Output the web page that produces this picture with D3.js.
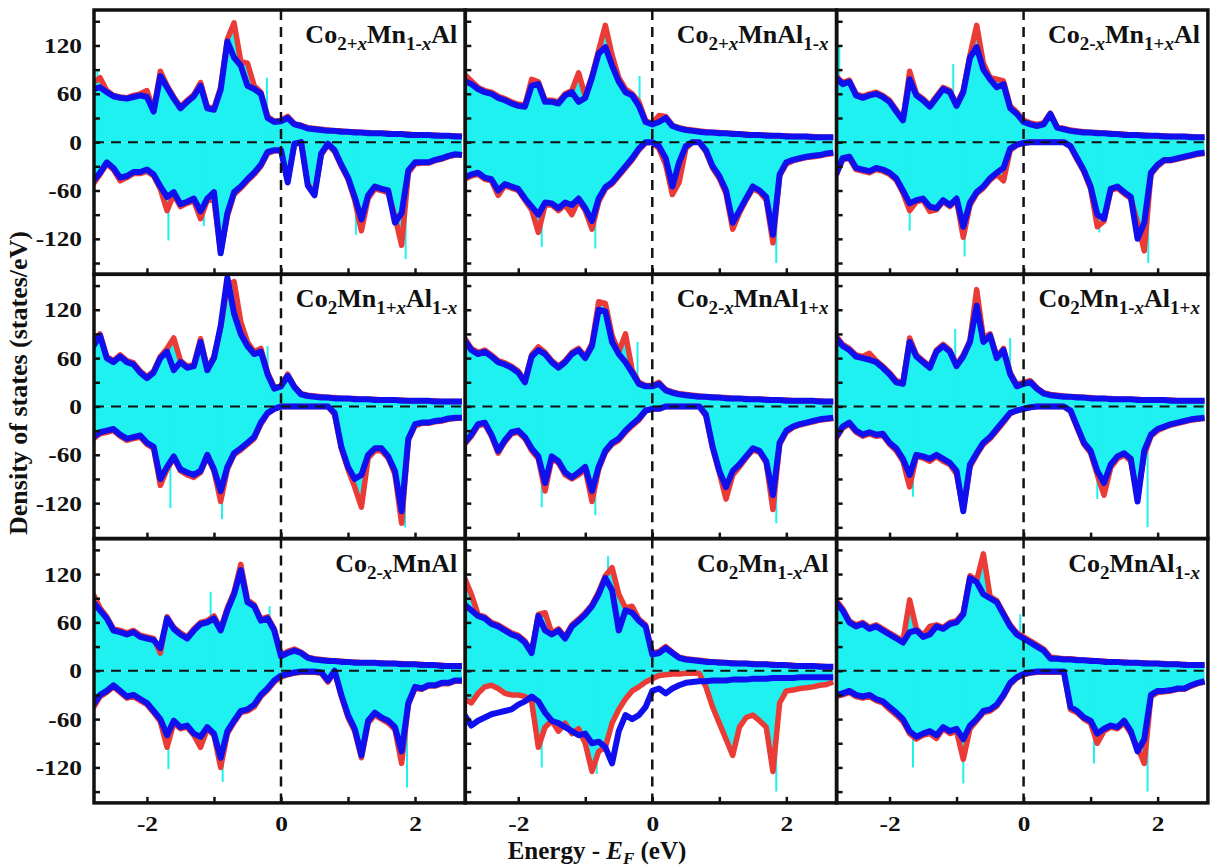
<!DOCTYPE html>
<html>
<head>
<meta charset="utf-8">
<script src="https://cdn.jsdelivr.net/npm/d3@7"></script>
<style>
  body { margin: 0; background: #fff; }
  text { font-family: "Liberation Serif", "Times New Roman", serif; font-weight: bold; }
</style>
</head>
<body>
<script>
// energy grid (eV), shared by every panel
const energy = [-2.8, -2.7, -2.6, -2.5, -2.4, -2.3, -2.2, -2.1, -2.0, -1.9,
  -1.8, -1.7, -1.6, -1.5, -1.4, -1.3, -1.2, -1.1, -1.0, -0.9,
  -0.8, -0.7, -0.6, -0.5, -0.4, -0.3, -0.2, -0.1, 0, 0.1,
  0.2, 0.3, 0.4, 0.5, 0.6, 0.7, 0.8, 0.9, 1.0, 1.1,
  1.2, 1.3, 1.4, 1.5, 1.6, 1.7, 1.8, 1.9, 2.0, 2.1,
  2.2, 2.3, 2.4, 2.5, 2.6, 2.7]

const yTicks = [-150, -120, -90, -60, -30, 0, 30, 60, 90, 120, 150]
const yLabels = [-120, -60, 0, 60, 120]
const xTicks = [-2, -1, 0, 1, 2]
const xLabels = [-2, 0, 2]

const labels = ['Co_{2+x}Mn_{1-x}Al', 'Co_{2+x}MnAl_{1-x}', 'Co_{2-x}Mn_{1+x}Al',
  'Co_{2}Mn_{1+x}Al_{1-x}', 'Co_{2-x}MnAl_{1+x}', 'Co_{2}Mn_{1-x}Al_{1+x}',
  'Co_{2-x}MnAl', 'Co_{2}Mn_{1-x}Al', 'Co_{2}MnAl_{1-x}']

// panel 1
const blueUp1 = [66, 68, 62, 57, 55, 54, 56, 58, 56, 38, 82, 68, 54, 42, 50, 57, 70, 42, 40, 65,
  125, 105, 95, 70, 66, 60, 30, 25, 26, 30, 22, 20, 17, 16, 15, 14, 14, 13, 13, 12,
  12, 11, 11, 11, 10, 10, 10, 9, 9, 9, 9, 8, 8, 8, 7, 7]
const redUp1 = [74, 80, 64, 58, 56, 55, 58, 60, 64, 40, 88, 70, 56, 44, 52, 59, 74, 44, 42, 68,
  128, 148, 100, 98, 70, 62, 32, 26, 27, 32, 23, 21, 18, 17, 16, 15, 14, 14, 13, 13,
  12, 12, 11, 11, 11, 10, 10, 10, 9, 9, 9, 9, 8, 8, 8, 7]
const blueDown1 = [-48, -38, -25, -32, -44, -42, -37, -37, -34, -40, -55, -68, -62, -77, -74, -70, -86, -70, -62, -138,
  -88, -62, -55, -46, -38, -28, -12, -10, -10, -50, -2, 0, -54, -66, -14, -2, -10, -28, -44, -68,
  -96, -66, -55, -58, -60, -100, -88, -35, -25, -25, -25, -22, -20, -17, -15, -16]
const redDown1 = [-52, -40, -27, -34, -48, -44, -39, -39, -36, -42, -58, -85, -65, -80, -76, -73, -95, -72, -72, -136,
  -92, -65, -57, -48, -40, -30, -14, -11, -10, -48, -3, 0, -52, -64, -16, -3, -12, -30, -46, -72,
  -110, -70, -58, -60, -63, -92, -128, -38, -27, -26, -26, -23, -21, -18, -16, -16]
const spikes1 = [[-2.74, 90], [-0.21, 80], [-1.68, -122], [-1.15, -104], [1.12, -115], [1.86, -145]]

// panel 2
const blueUp2 = [76, 72, 66, 62, 60, 55, 52, 48, 45, 44, 70, 72, 50, 50, 48, 58, 62, 50, 55, 80,
  110, 118, 95, 75, 62, 58, 45, 25, 22, 25, 30, 20, 17, 15, 14, 13, 12, 12, 11, 11,
  10, 10, 9, 9, 9, 8, 8, 8, 7, 7, 7, 7, 6, 6, 6, 6]
const redUp2 = [84, 76, 68, 64, 62, 57, 54, 50, 47, 46, 78, 75, 52, 52, 50, 60, 64, 86, 57, 82,
  114, 145, 108, 80, 66, 60, 50, 27, 23, 33, 32, 21, 18, 16, 15, 14, 13, 12, 12, 11,
  11, 10, 10, 9, 9, 9, 8, 8, 8, 7, 7, 7, 7, 6, 6, 6]
const blueDown2 = [-44, -40, -38, -44, -46, -60, -52, -55, -58, -70, -80, -90, -75, -76, -82, -75, -78, -70, -82, -98,
  -70, -56, -50, -40, -30, -20, -8, 0, 0, -5, -20, -55, -25, -5, 0, 0, -10, -30, -42, -60,
  -100, -85, -70, -55, -60, -68, -115, -40, -25, -22, -20, -18, -17, -16, -14, -13]
const redDown2 = [-46, -42, -40, -46, -48, -66, -54, -57, -60, -72, -84, -112, -78, -78, -85, -78, -90, -72, -85, -108,
  -74, -58, -52, -42, -32, -22, -10, -1, 0, -8, -28, -65, -50, -8, 0, 0, -12, -32, -45, -64,
  -108, -88, -72, -58, -62, -72, -125, -42, -27, -23, -21, -19, -18, -17, -15, -14]
const spikes2 = [[-0.19, 82], [-1.65, -130], [-0.85, -132], [1.85, -150]]

// panel 3
const blueUp3 = [80, 72, 75, 58, 55, 58, 60, 56, 50, 38, 27, 78, 58, 52, 44, 55, 66, 62, 45, 62,
  105, 118, 90, 78, 68, 72, 42, 35, 25, 22, 20, 22, 35, 18, 16, 14, 13, 12, 12, 11,
  11, 10, 10, 9, 9, 9, 8, 8, 8, 7, 7, 7, 7, 6, 6, 6]
const redUp3 = [82, 74, 77, 60, 57, 60, 62, 58, 52, 40, 28, 88, 60, 54, 46, 57, 68, 64, 47, 64,
  108, 145, 98, 80, 78, 76, 45, 37, 27, 24, 22, 24, 36, 19, 17, 15, 14, 13, 12, 12,
  11, 11, 10, 10, 9, 9, 9, 8, 8, 8, 7, 7, 7, 7, 6, 6]
const blueDown3 = [-40, -20, -18, -32, -34, -36, -32, -34, -38, -45, -60, -76, -72, -70, -80, -82, -72, -78, -70, -105,
  -75, -62, -55, -45, -38, -32, -8, -3, -1, 0, 0, 0, 0, 0, 0, -5, -20, -35, -55, -90,
  -95, -58, -55, -62, -68, -120, -100, -38, -28, -22, -22, -20, -18, -16, -14, -13]
const redDown3 = [-42, -22, -20, -34, -36, -38, -34, -36, -40, -47, -63, -85, -74, -72, -86, -84, -74, -80, -72, -118,
  -78, -64, -57, -47, -40, -48, -10, -4, -1, 0, 0, 0, 0, 0, 0, -6, -22, -37, -58, -105,
  -98, -60, -57, -64, -70, -100, -135, -40, -30, -23, -23, -21, -19, -17, -15, -14]
const spikes3 = [[-2.75, 118], [-1.05, 97], [-1.7, -110], [-0.88, -142], [1.13, -112], [1.86, -150]]

// panel 4
const blueUp4 = [75, 88, 60, 55, 62, 55, 52, 42, 35, 42, 60, 68, 45, 55, 48, 50, 80, 45, 60, 100,
  160, 115, 90, 75, 65, 68, 40, 22, 25, 38, 24, 15, 13, 12, 11, 11, 10, 10, 10, 9,
  9, 9, 8, 8, 8, 8, 7, 7, 7, 7, 7, 6, 6, 6, 6, 6]
const redUp4 = [78, 90, 62, 57, 64, 57, 54, 44, 37, 44, 62, 72, 85, 57, 50, 52, 84, 47, 62, 98,
  150, 155, 105, 80, 68, 72, 42, 24, 26, 40, 25, 16, 14, 13, 12, 11, 11, 10, 10, 10,
  9, 9, 9, 8, 8, 8, 8, 7, 7, 7, 7, 7, 6, 6, 6, 6]
const blueDown4 = [-38, -32, -30, -28, -35, -40, -38, -36, -45, -50, -90, -75, -62, -78, -82, -85, -80, -60, -78, -105,
  -75, -58, -52, -45, -38, -20, -8, -3, 0, 0, 0, 0, 0, 0, 0, 0, -8, -50, -75, -90,
  -85, -60, -52, -52, -62, -80, -130, -40, -22, -20, -20, -18, -17, -15, -14, -14]
const redDown4 = [-40, -34, -32, -30, -37, -42, -40, -38, -47, -52, -98, -78, -64, -80, -85, -88, -82, -62, -80, -118,
  -78, -60, -54, -47, -40, -22, -9, -3, 0, 0, 0, 0, 0, 0, 0, 0, -10, -52, -78, -100,
  -125, -64, -55, -55, -64, -84, -145, -42, -24, -21, -21, -19, -18, -16, -15, -14]
const spikes4 = [[-0.2, 75], [-1.65, -126], [-0.88, -140], [1.85, -150]]

// panel 5
const blueUp5 = [82, 70, 65, 68, 62, 55, 52, 48, 42, 30, 62, 70, 65, 55, 48, 55, 65, 70, 60, 75,
  120, 118, 80, 65, 55, 42, 28, 25, 25, 28, 20, 17, 15, 14, 13, 12, 12, 11, 11, 10,
  10, 10, 9, 9, 9, 8, 8, 8, 7, 7, 7, 7, 7, 6, 6, 6]
const redUp5 = [85, 72, 67, 70, 64, 57, 54, 50, 44, 32, 64, 74, 67, 57, 50, 57, 67, 72, 62, 78,
  130, 128, 88, 68, 90, 45, 30, 26, 26, 30, 21, 18, 16, 15, 14, 13, 12, 12, 11, 11,
  10, 10, 10, 9, 9, 9, 8, 8, 8, 7, 7, 7, 7, 7, 6, 6]
const blueDown5 = [-45, -35, -22, -20, -35, -55, -42, -32, -30, -38, -52, -62, -95, -62, -68, -82, -88, -82, -75, -105,
  -75, -55, -45, -40, -30, -22, -15, -5, -3, -3, 0, 0, 0, 0, 0, 0, -10, -50, -80, -100,
  -80, -72, -62, -52, -55, -68, -110, -45, -30, -25, -22, -20, -18, -16, -15, -14]
const redDown5 = [-47, -37, -24, -22, -37, -58, -44, -34, -32, -40, -55, -65, -105, -65, -70, -85, -90, -85, -78, -118,
  -78, -57, -47, -42, -32, -24, -17, -6, -3, -3, 0, 0, 0, 0, 0, 0, -12, -52, -82, -115,
  -85, -75, -64, -54, -57, -70, -128, -47, -32, -26, -23, -21, -19, -17, -16, -15]
const spikes5 = [[-0.22, 80], [-1.65, -125], [-0.85, -135], [1.85, -145]]

// panel 6
const blueUp6 = [85, 75, 70, 62, 60, 58, 55, 48, 40, 30, 28, 80, 62, 55, 48, 68, 75, 68, 50, 62,
  80, 125, 80, 88, 60, 70, 40, 25, 28, 30, 22, 16, 14, 13, 12, 12, 11, 11, 10, 10,
  10, 9, 9, 9, 9, 8, 8, 8, 8, 8, 7, 7, 7, 7, 7, 7]
const redUp6 = [88, 77, 72, 64, 62, 66, 57, 50, 42, 32, 30, 85, 64, 57, 50, 70, 77, 70, 52, 64,
  82, 145, 85, 90, 62, 72, 42, 27, 30, 32, 23, 17, 15, 14, 13, 12, 12, 11, 11, 10,
  10, 10, 9, 9, 9, 9, 8, 8, 8, 8, 8, 7, 7, 7, 7, 7]
const blueDown6 = [-38, -25, -20, -30, -35, -32, -35, -34, -45, -52, -65, -85, -60, -62, -65, -60, -65, -70, -80, -130,
  -72, -58, -45, -38, -28, -18, -8, -5, -3, -1, 0, 0, 0, 0, 0, -5, -25, -45, -55, -80,
  -95, -72, -62, -58, -65, -118, -55, -35, -28, -25, -22, -20, -18, -16, -15, -14]
const redDown6 = [-40, -27, -22, -32, -37, -34, -37, -36, -47, -55, -68, -100, -62, -64, -68, -62, -68, -72, -84, -128,
  -75, -60, -47, -40, -30, -20, -9, -5, -3, -1, 0, 0, 0, 0, 0, -6, -27, -47, -58, -85,
  -110, -76, -65, -60, -68, -112, -60, -37, -30, -26, -23, -21, -19, -17, -16, -15]
const spikes6 = [[-2.78, 118], [-1.02, 96], [-0.2, 85], [-1.65, -112], [1.1, -115], [1.85, -150]]

// panel 7
const blueUp7 = [85, 75, 65, 50, 48, 45, 48, 42, 40, 38, 28, 65, 52, 45, 40, 50, 58, 60, 65, 50,
  75, 95, 125, 85, 80, 62, 65, 50, 18, 22, 25, 22, 16, 14, 13, 12, 12, 11, 11, 10,
  10, 10, 10, 9, 9, 9, 8, 8, 8, 7, 7, 7, 6, 6, 6, 6]
const redUp7 = [95, 78, 67, 52, 50, 47, 50, 44, 42, 40, 22, 67, 54, 47, 42, 52, 60, 62, 68, 52,
  78, 98, 132, 88, 82, 64, 67, 52, 20, 24, 27, 23, 17, 15, 14, 13, 12, 12, 11, 11,
  10, 10, 10, 10, 9, 9, 9, 8, 8, 8, 7, 7, 7, 6, 6, 6]
const blueDown7 = [-42, -30, -25, -18, -25, -32, -30, -35, -40, -50, -60, -80, -62, -70, -68, -78, -82, -70, -78, -108,
  -75, -62, -50, -48, -42, -30, -22, -12, -6, -4, -2, -1, -1, -1, -2, -12, 0, -30, -55, -72,
  -105, -62, -52, -58, -62, -70, -100, -40, -20, -22, -18, -18, -15, -15, -12, -12]
const redDown7 = [-46, -32, -27, -20, -27, -34, -32, -37, -42, -52, -63, -95, -65, -72, -70, -80, -95, -72, -80, -120,
  -78, -64, -52, -50, -45, -32, -24, -14, -8, -5, -3, -2, -2, -2, -3, -14, -1, -32, -58, -75,
  -108, -65, -55, -60, -65, -73, -115, -42, -22, -23, -19, -19, -16, -16, -13, -13]
const spikes7 = [[-1.05, 98], [-0.17, 80], [-1.68, -122], [-0.87, -138], [1.88, -145]]

// panel 8
const blueUp8 = [82, 75, 68, 65, 58, 55, 50, 45, 42, 35, 22, 68, 50, 45, 50, 40, 55, 62, 70, 80,
  95, 115, 100, 50, 75, 72, 62, 55, 20, 22, 28, 22, 16, 14, 13, 12, 11, 11, 10, 10,
  9, 9, 9, 8, 8, 8, 7, 7, 7, 6, 6, 6, 6, 5, 5, 5]
const redUp8 = [115, 95, 70, 67, 60, 57, 52, 47, 44, 37, 24, 70, 72, 47, 52, 42, 57, 64, 72, 82,
  98, 118, 128, 95, 78, 80, 64, 57, 22, 24, 30, 23, 17, 15, 14, 13, 12, 11, 11, 10,
  10, 9, 9, 9, 8, 8, 8, 7, 7, 7, 6, 6, 6, 6, 5, 5]
const blueDown8 = [-55, -68, -62, -58, -54, -52, -50, -48, -42, -38, -32, -38, -52, -62, -65, -70, -75, -80, -78, -90,
  -88, -95, -115, -75, -55, -60, -55, -45, -25, -22, -28, -22, -18, -15, -14, -13, -13, -12, -12, -12,
  -11, -11, -11, -10, -10, -10, -9, -9, -9, -9, -8, -8, -8, -8, -8, -8]
const redDown8 = [-35, -40, -28, -20, -18, -22, -28, -30, -30, -32, -38, -95, -70, -62, -75, -65, -78, -72, -90, -125,
  -100, -95, -65, -48, -35, -25, -20, -14, -10, -6, -5, -4, -4, -3, -3, -3, -20, -45, -65, -85,
  -105, -70, -58, -55, -62, -70, -125, -40, -25, -24, -22, -21, -20, -18, -17, -14]
const spikes8 = [[-0.66, 142], [-1.65, -120], [-0.83, -128], [1.85, -150]]

// panel 9
const blueUp9 = [85, 75, 60, 55, 58, 52, 55, 50, 45, 40, 35, 48, 50, 42, 45, 55, 52, 58, 60, 70,
  115, 110, 95, 90, 85, 70, 55, 45, 40, 35, 30, 25, 15, 15, 14, 14, 13, 13, 12, 12,
  11, 11, 11, 10, 10, 10, 9, 9, 9, 8, 8, 8, 7, 7, 7, 7]
const redUp9 = [88, 77, 62, 57, 60, 54, 57, 52, 47, 42, 37, 88, 52, 44, 55, 57, 54, 60, 62, 72,
  118, 112, 145, 92, 87, 72, 57, 47, 42, 37, 32, 27, 17, 16, 15, 15, 14, 13, 13, 12,
  12, 11, 11, 11, 10, 10, 10, 9, 9, 9, 8, 8, 8, 7, 7, 7]
const blueDown9 = [-30, -28, -25, -30, -32, -30, -35, -38, -45, -52, -60, -75, -82, -78, -75, -80, -70, -75, -72, -85,
  -68, -60, -50, -48, -42, -30, -15, -8, -4, -2, -1, -1, -1, -1, -1, -45, -50, -58, -62, -78,
  -72, -68, -70, -62, -75, -100, -85, -30, -25, -25, -24, -22, -22, -18, -15, -13]
const redDown9 = [-32, -30, -27, -32, -34, -32, -37, -40, -48, -55, -63, -78, -85, -80, -78, -84, -72, -78, -75, -110,
  -72, -62, -52, -50, -44, -32, -17, -9, -5, -3, -2, -2, -2, -2, -2, -48, -52, -60, -65, -90,
  -75, -70, -72, -65, -78, -95, -115, -32, -27, -26, -25, -23, -23, -19, -16, -14]
const spikes9 = [[-0.05, 70], [-1.65, -120], [-0.9, -140], [1.05, -115], [1.85, -150]]

const panels = [
  [blueUp1, redUp1, blueDown1, redDown1, spikes1],
  [blueUp2, redUp2, blueDown2, redDown2, spikes2],
  [blueUp3, redUp3, blueDown3, redDown3, spikes3],
  [blueUp4, redUp4, blueDown4, redDown4, spikes4],
  [blueUp5, redUp5, blueDown5, redDown5, spikes5],
  [blueUp6, redUp6, blueDown6, redDown6, spikes6],
  [blueUp7, redUp7, blueDown7, redDown7, spikes7],
  [blueUp8, redUp8, blueDown8, redDown8, spikes8],
  [blueUp9, redUp9, blueDown9, redDown9, spikes9],
].map((p, i) => ({ blueUp: p[0], redUp: p[1], blueDown: p[2], redDown: p[3], spikes: p[4], label: labels[i] }))

const W = 1210, H = 867
const marginLeft = 94, marginTop = 10, pw = 371.3, ph = 264.3
const CYAN = '#1ff0f0', RED = '#ea3b36', BLUE = '#1010ee'

const x = d3.scaleLinear().domain([-2.79, 2.75]).range([0, pw])
const y = d3.scaleLinear().domain([-164, 164]).range([ph, 0])

const svg = d3.select('body').append('svg').attr('width', W).attr('height', H)

const line = d3.line().x((d, i) => x(energy[i])).y(d => y(d))
const area = d3.area().x((d, i) => x(energy[i])).y0(y(0)).y1(d => y(d))

// stretch a text element horizontally to mimic the wide print font
const widen = (sel, k) => sel.each(function () {
  const w = this.getComputedTextLength()
  if (w > 0) d3.select(this).attr('textLength', w * k).attr('lengthAdjust', 'spacingAndGlyphs')
})

// label markup: plain text, _{...} subscripts, x in subscripts italic
const drawLabel = (g, str) => {
  const t = g.append('text').attr('x', pw - 8).attr('y', 33).attr('text-anchor', 'end')
    .attr('font-size', 26).attr('fill', '#111')
  let inSub = false
  str.match(/_\{[^}]*\}|[^_]+/g).forEach(part => {
    if (part.startsWith('_{')) {
      const s = part.slice(2, -1)
      s.split(/(x)/).filter(c => c).forEach((c, j) => {
        t.append('tspan').attr('font-size', 19).attr('dy', !inSub && j === 0 ? 7 : 0)
          .attr('font-style', c === 'x' ? 'italic' : 'normal').text(c)
        inSub = true
      })
    } else {
      t.append('tspan').attr('font-size', 26).attr('dy', inSub ? -7 : 0).text(part)
      inSub = false
    }
  })
}

panels.forEach((p, i) => {
  const col = i % 3, row = Math.floor(i / 3)
  const g = svg.append('g').attr('transform', `translate(${marginLeft + col * pw},${marginTop + row * ph})`)

  g.append('clipPath').attr('id', 'clip' + i).append('rect').attr('width', pw).attr('height', ph)
  const plot = g.append('g').attr('clip-path', `url(#clip${i})`)

  // cyan total DOS fill
  plot.append('path').datum(p.redUp).attr('d', area).attr('fill', CYAN)
  plot.append('path').datum(p.redDown).attr('d', area).attr('fill', CYAN)
  plot.selectAll('.spike').data(p.spikes).enter().append('line')
    .attr('x1', d => x(d[0])).attr('x2', d => x(d[0]))
    .attr('y1', y(0)).attr('y2', d => y(d[1]))
    .attr('stroke', CYAN).attr('stroke-width', 2)

  // red then blue curves
  ;[[p.redUp, RED, 5.5], [p.redDown, RED, 5.5], [p.blueUp, BLUE, 6], [p.blueDown, BLUE, 6]].forEach(([d, c, w]) => {
    plot.append('path').datum(d).attr('d', line).attr('fill', 'none')
      .attr('stroke', c).attr('stroke-width', w).attr('stroke-linejoin', 'round')
  })

  // dashed zero lines
  plot.append('line').attr('x1', 0).attr('x2', pw).attr('y1', y(0)).attr('y2', y(0))
    .attr('stroke', '#111').attr('stroke-width', 2).attr('stroke-dasharray', '10,7')
  plot.append('line').attr('x1', x(0)).attr('x2', x(0)).attr('y1', 0).attr('y2', ph)
    .attr('stroke', '#111').attr('stroke-width', 2.5).attr('stroke-dasharray', '10,7')

  // axes with inward ticks
  const ya = g.append('g').call(d3.axisLeft(y).tickValues(yTicks).tickSize(-6).tickPadding(12)
    .tickFormat(d => col === 0 && yLabels.includes(d) ? String(d) : ''))
  const xa = g.append('g').attr('transform', `translate(0,${ph})`)
    .call(d3.axisBottom(x).tickValues(xTicks).tickSize(-6).tickPadding(12)
      .tickFormat(d => row === 2 && xLabels.includes(d) ? String(d) : ''))
  ;[ya, xa].forEach(a => {
    a.select('.domain').remove()
    a.selectAll('line').attr('stroke', '#111').attr('stroke-width', 2.5)
    a.selectAll('text').attr('font-size', 22).attr('fill', '#111')
      .attr('font-family', '"Liberation Serif", serif').attr('font-weight', 'bold')
    widen(a.selectAll('text'), 1.15)
  })

  g.append('rect').attr('width', pw).attr('height', ph).attr('fill', 'none')
    .attr('stroke', '#111').attr('stroke-width', 3.5)

  drawLabel(g, p.label)
})

// axis titles
svg.append('text').attr('transform', 'translate(27,383) rotate(-90)').attr('text-anchor', 'middle')
  .attr('font-size', 26).attr('fill', '#111').text('Density of states (states/eV)')

const xt = svg.append('text').attr('x', 597).attr('y', 859).attr('text-anchor', 'middle')
  .attr('font-size', 25).attr('fill', '#111')
xt.append('tspan').text('Energy - ')
xt.append('tspan').attr('font-style', 'italic').text('E')
xt.append('tspan').attr('font-style', 'italic').attr('font-size', 17).attr('dy', 5).text('F')
xt.append('tspan').attr('dy', -5).text(' (eV)')
</script>
</body>
</html>
